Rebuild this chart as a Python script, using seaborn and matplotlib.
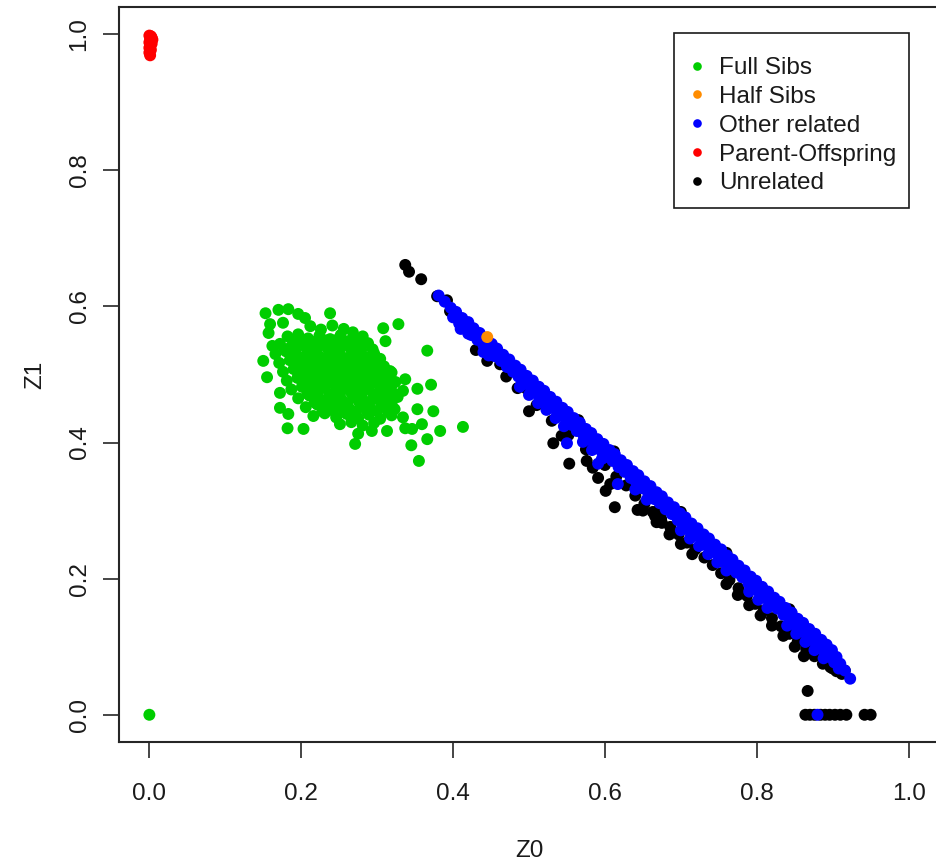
import matplotlib
matplotlib.use("Agg")
import matplotlib.pyplot as plt
from matplotlib.lines import Line2D
from matplotlib.patches import Rectangle
import pandas as pd
import seaborn as sns

# IBD sharing estimates (Z0, Z1) per pair, grouped by reported relationship
full_sibs = [
    (0.000, 0.000),
    (0.153, 0.590), (0.170, 0.595), (0.183, 0.596), (0.196, 0.589), (0.205, 0.583),
    (0.238, 0.590), (0.159, 0.574), (0.176, 0.576), (0.157, 0.561), (0.328, 0.574),
    (0.308, 0.568), (0.311, 0.549), (0.366, 0.535), (0.162, 0.542), (0.150, 0.520),
    (0.155, 0.496), (0.172, 0.473), (0.172, 0.451), (0.183, 0.442), (0.182, 0.421),
    (0.203, 0.420), (0.271, 0.398), (0.275, 0.413), (0.293, 0.417), (0.313, 0.417),
    (0.337, 0.493), (0.353, 0.479), (0.371, 0.485), (0.334, 0.476), (0.353, 0.449),
    (0.374, 0.446), (0.413, 0.423), (0.383, 0.417), (0.366, 0.405), (0.345, 0.396),
    (0.355, 0.373), (0.317, 0.505), (0.359, 0.427), (0.346, 0.420), (0.337, 0.421),
    (0.212, 0.571), (0.226, 0.566), (0.241, 0.572), (0.256, 0.567), (0.268, 0.562),
    (0.182, 0.556), (0.196, 0.559), (0.209, 0.553), (0.224, 0.557), (0.238, 0.552),
    (0.252, 0.558), (0.266, 0.551), (0.281, 0.556),
    (0.172, 0.545), (0.186, 0.540), (0.201, 0.546), (0.215, 0.541), (0.229, 0.545),
    (0.244, 0.539), (0.258, 0.544), (0.273, 0.540), (0.288, 0.546),
    (0.166, 0.530), (0.180, 0.534), (0.194, 0.528), (0.209, 0.533), (0.223, 0.527),
    (0.238, 0.532), (0.252, 0.528), (0.267, 0.533), (0.281, 0.527), (0.296, 0.531),
    (0.171, 0.517), (0.185, 0.521), (0.199, 0.515), (0.214, 0.519), (0.228, 0.514),
    (0.243, 0.520), (0.257, 0.515), (0.272, 0.519), (0.286, 0.513), (0.301, 0.518),
    (0.176, 0.504), (0.190, 0.508), (0.204, 0.502), (0.219, 0.507), (0.233, 0.501),
    (0.248, 0.506), (0.262, 0.500), (0.277, 0.505), (0.291, 0.501), (0.306, 0.507),
    (0.319, 0.503),
    (0.181, 0.491), (0.195, 0.495), (0.209, 0.489), (0.224, 0.494), (0.238, 0.488),
    (0.253, 0.493), (0.267, 0.487), (0.282, 0.492), (0.296, 0.488), (0.311, 0.494),
    (0.324, 0.489),
    (0.187, 0.478), (0.201, 0.482), (0.216, 0.476), (0.230, 0.481), (0.245, 0.475),
    (0.259, 0.480), (0.274, 0.474), (0.288, 0.479), (0.303, 0.475), (0.317, 0.480),
    (0.196, 0.465), (0.211, 0.469), (0.225, 0.463), (0.240, 0.468), (0.254, 0.462),
    (0.269, 0.467), (0.283, 0.461), (0.298, 0.466), (0.312, 0.462), (0.327, 0.467),
    (0.206, 0.452), (0.221, 0.456), (0.235, 0.450), (0.250, 0.455), (0.264, 0.449),
    (0.279, 0.454), (0.293, 0.448), (0.308, 0.453), (0.323, 0.449),
    (0.216, 0.439), (0.231, 0.443), (0.246, 0.437), (0.260, 0.442), (0.275, 0.436),
    (0.289, 0.441), (0.304, 0.435), (0.319, 0.440), (0.334, 0.437),
    (0.251, 0.427), (0.266, 0.430), (0.281, 0.425), (0.296, 0.429),
    (0.189, 0.550), (0.218, 0.548), (0.247, 0.551), (0.276, 0.549),
    (0.203, 0.549), (0.232, 0.550), (0.261, 0.548),
    (0.178, 0.537), (0.207, 0.538), (0.236, 0.536), (0.265, 0.538), (0.294, 0.537),
    (0.192, 0.536), (0.221, 0.537), (0.250, 0.535), (0.279, 0.536),
    (0.188, 0.524), (0.217, 0.523), (0.246, 0.525), (0.275, 0.524), (0.304, 0.523),
    (0.202, 0.525), (0.231, 0.524), (0.260, 0.523), (0.289, 0.525),
    (0.193, 0.511), (0.222, 0.510), (0.251, 0.512), (0.280, 0.511), (0.309, 0.512),
    (0.207, 0.512), (0.236, 0.511), (0.265, 0.510), (0.294, 0.511),
    (0.198, 0.498), (0.227, 0.497), (0.256, 0.499), (0.285, 0.497), (0.313, 0.496),
    (0.212, 0.499), (0.241, 0.497), (0.270, 0.498), (0.299, 0.499),
    (0.203, 0.485), (0.232, 0.484), (0.261, 0.486), (0.290, 0.485), (0.319, 0.484),
    (0.217, 0.486), (0.246, 0.484), (0.275, 0.485), (0.304, 0.486),
    (0.208, 0.472), (0.237, 0.471), (0.266, 0.473), (0.295, 0.471), (0.322, 0.472),
    (0.222, 0.473), (0.251, 0.471), (0.280, 0.472), (0.309, 0.473),
    (0.218, 0.459), (0.247, 0.458), (0.276, 0.460), (0.305, 0.458),
    (0.232, 0.460), (0.261, 0.458), (0.290, 0.459), (0.319, 0.458),
    (0.228, 0.446), (0.257, 0.445), (0.286, 0.447), (0.315, 0.445),
    (0.242, 0.447), (0.271, 0.445), (0.300, 0.446),
]

half_sibs = [(0.445, 0.555)]

parent_offspring = [
    (0.000, 0.998), (0.002, 0.997), (0.003, 0.995), (0.001, 0.993), (0.004, 0.992),
    (0.002, 0.990), (0.000, 0.988), (0.003, 0.986), (0.001, 0.983), (0.000, 0.980),
    (0.002, 0.977), (0.000, 0.973), (0.001, 0.969),
]

other_related = [
    # upper edge of the band
    (0.381, 0.616), (0.389, 0.607), (0.397, 0.598), (0.404, 0.592), (0.412, 0.583),
    (0.420, 0.577), (0.427, 0.568), (0.435, 0.561), (0.443, 0.552), (0.451, 0.545),
    (0.458, 0.538), (0.466, 0.529), (0.474, 0.522), (0.482, 0.513), (0.489, 0.507),
    (0.497, 0.498), (0.505, 0.491), (0.513, 0.482), (0.520, 0.476), (0.528, 0.467),
    (0.536, 0.460), (0.544, 0.451), (0.551, 0.445), (0.559, 0.436), (0.567, 0.429),
    (0.575, 0.420), (0.582, 0.414), (0.590, 0.405), (0.598, 0.398), (0.606, 0.389),
    (0.613, 0.383), (0.621, 0.374), (0.629, 0.367), (0.637, 0.358), (0.644, 0.352),
    (0.652, 0.343), (0.660, 0.336), (0.668, 0.327), (0.675, 0.321), (0.683, 0.312),
    (0.691, 0.305), (0.699, 0.296), (0.706, 0.290), (0.714, 0.281), (0.722, 0.274),
    (0.730, 0.265), (0.737, 0.259), (0.745, 0.250), (0.753, 0.243), (0.761, 0.234),
    (0.768, 0.228), (0.776, 0.219), (0.784, 0.212), (0.792, 0.203), (0.799, 0.197),
    (0.807, 0.188), (0.815, 0.181), (0.823, 0.172), (0.830, 0.166), (0.838, 0.157),
    (0.846, 0.150), (0.854, 0.141), (0.861, 0.135), (0.869, 0.126), (0.877, 0.119),
    (0.885, 0.110), (0.892, 0.103), (0.899, 0.095), (0.905, 0.085), (0.910, 0.075),
    (0.916, 0.065), (0.923, 0.053),
    # middle of the band
    (0.400, 0.584), (0.408, 0.575), (0.416, 0.568), (0.424, 0.558), (0.432, 0.551),
    (0.440, 0.543), (0.447, 0.536), (0.455, 0.527), (0.463, 0.520), (0.471, 0.511),
    (0.479, 0.504), (0.486, 0.497), (0.494, 0.488), (0.502, 0.481), (0.510, 0.472),
    (0.517, 0.466), (0.525, 0.457), (0.533, 0.450), (0.541, 0.441), (0.548, 0.435),
    (0.556, 0.426), (0.564, 0.419), (0.572, 0.410), (0.579, 0.404), (0.587, 0.395),
    (0.595, 0.388), (0.603, 0.379), (0.610, 0.373), (0.618, 0.364), (0.626, 0.357),
    (0.634, 0.348), (0.641, 0.342), (0.649, 0.333), (0.657, 0.326), (0.665, 0.317),
    (0.672, 0.311), (0.680, 0.302), (0.688, 0.295), (0.696, 0.286), (0.703, 0.280),
    (0.711, 0.271), (0.719, 0.264), (0.727, 0.255), (0.734, 0.249), (0.742, 0.240),
    (0.750, 0.233), (0.758, 0.224), (0.765, 0.218), (0.773, 0.209), (0.781, 0.202),
    (0.789, 0.193), (0.796, 0.187), (0.804, 0.178), (0.812, 0.171), (0.820, 0.162),
    (0.827, 0.156), (0.835, 0.147), (0.843, 0.140), (0.851, 0.131), (0.858, 0.125),
    (0.866, 0.116), (0.874, 0.109), (0.882, 0.100), (0.889, 0.093), (0.896, 0.085),
    (0.902, 0.077), (0.908, 0.068),
    # lower edge where the band widens
    (0.488, 0.482), (0.500, 0.470), (0.512, 0.458), (0.523, 0.448), (0.535, 0.436),
    (0.546, 0.424), (0.571, 0.401), (0.583, 0.389), (0.596, 0.376), (0.640, 0.331),
    (0.655, 0.316), (0.700, 0.271), (0.712, 0.259), (0.724, 0.248), (0.736, 0.236),
    (0.748, 0.224), (0.760, 0.212), (0.790, 0.181), (0.802, 0.169), (0.814, 0.157),
    (0.840, 0.131), (0.852, 0.119), (0.864, 0.107), (0.876, 0.095), (0.888, 0.083),
    # scattered pairs
    (0.410, 0.567), (0.420, 0.560), (0.440, 0.533), (0.447, 0.528), (0.550, 0.399),
    (0.563, 0.417), (0.591, 0.369), (0.617, 0.339), (0.880, 0.000),
]

unrelated = [
    # just above the band
    (0.392, 0.609), (0.565, 0.433), (0.612, 0.387), (0.700, 0.298), (0.760, 0.238),
    (0.843, 0.155),
    # lower edge of the band
    (0.430, 0.536), (0.445, 0.520), (0.470, 0.497), (0.485, 0.480), (0.510, 0.455),
    (0.530, 0.432), (0.552, 0.411), (0.575, 0.390), (0.600, 0.367), (0.615, 0.350),
    (0.628, 0.337), (0.640, 0.322), (0.652, 0.310), (0.663, 0.298), (0.674, 0.288),
    (0.686, 0.276), (0.697, 0.265), (0.708, 0.253), (0.719, 0.243), (0.731, 0.231),
    (0.742, 0.220), (0.753, 0.208), (0.764, 0.198), (0.776, 0.186), (0.787, 0.175),
    (0.798, 0.163), (0.809, 0.153), (0.820, 0.142), (0.832, 0.130), (0.843, 0.119),
    (0.854, 0.108), (0.865, 0.097), (0.876, 0.086), (0.887, 0.075), (0.897, 0.070),
    (0.905, 0.064), (0.912, 0.060),
    (0.650, 0.300), (0.668, 0.283), (0.685, 0.265), (0.700, 0.251), (0.715, 0.236),
    (0.760, 0.192), (0.775, 0.176), (0.790, 0.161), (0.805, 0.146), (0.820, 0.131),
    (0.835, 0.116), (0.850, 0.100), (0.862, 0.086),
    # scattered pairs
    (0.337, 0.661), (0.342, 0.651), (0.358, 0.640), (0.379, 0.615), (0.396, 0.593),
    (0.462, 0.515), (0.497, 0.479), (0.500, 0.446), (0.532, 0.399), (0.543, 0.410),
    (0.553, 0.369), (0.576, 0.373), (0.584, 0.363), (0.591, 0.348), (0.607, 0.339),
    (0.601, 0.329), (0.613, 0.305), (0.643, 0.301), (0.670, 0.300), (0.666, 0.292),
    (0.675, 0.282), (0.867, 0.035), (0.900, 0.068), (0.916, 0.065),
    # no IBD1 sharing
    (0.864, 0.000), (0.870, 0.000), (0.876, 0.000), (0.884, 0.000), (0.890, 0.000),
    (0.896, 0.000), (0.903, 0.000), (0.910, 0.000), (0.918, 0.000), (0.942, 0.000),
    (0.950, 0.000),
]

legend_order = ["Full Sibs", "Half Sibs", "Other related", "Parent-Offspring", "Unrelated"]
colors = {
    "Full Sibs": "#00CD00",
    "Half Sibs": "#FF8C00",
    "Other related": "#0000FF",
    "Parent-Offspring": "#FF0000",
    "Unrelated": "#000000",
}
tick_values = [0.0, 0.2, 0.4, 0.6, 0.8, 1.0]
tick_labels = ["0.0", "0.2", "0.4", "0.6", "0.8", "1.0"]

# drawing order: unrelated underneath, then the related groups on top
groups = [
    ("Unrelated", unrelated),
    ("Other related", other_related),
    ("Full Sibs", full_sibs),
    ("Half Sibs", half_sibs),
    ("Parent-Offspring", parent_offspring),
]
rows = [(z0, z1, name) for name, pts in groups for z0, z1 in pts]
df = pd.DataFrame(rows, columns=["Z0", "Z1", "relationship"])

sns.set_theme(style="ticks")
plt.rcParams["font.family"] = ["Liberation Sans", "DejaVu Sans"]

fig = plt.figure(figsize=(9.37, 8.61), dpi=100)
ax = fig.add_axes([119 / 937, 1 - 742 / 861, 820 / 937, 735 / 861])

sns.scatterplot(
    data=df, x="Z0", y="Z1", hue="relationship", hue_order=legend_order,
    palette=colors, s=74, linewidth=0, ax=ax, legend=False,
)

axis_color = "#262626"
ax.set_xlim(-0.04, 1.04)
ax.set_ylim(-0.04, 1.04)
ax.set_xticks(tick_values)
ax.set_xticklabels(tick_labels)
ax.set_yticks(tick_values)
ax.set_yticklabels(tick_labels, rotation=90, va="center")
ax.tick_params(axis="both", length=11.5, width=1.2, color=axis_color,
               labelsize=17.5, labelcolor="#1a1a1a")
ax.tick_params(axis="x", pad=18)
ax.tick_params(axis="y", pad=9)
for side in ax.spines.values():
    side.set_linewidth(1.5)
    side.set_color(axis_color)

ax.set_xlabel("Z0", fontsize=17.5, color="#1a1a1a", va="center")
ax.set_ylabel("Z1", fontsize=17.5, color="#1a1a1a", va="center")
ax.xaxis.set_label_coords(0.5, (742 - 851) / 735)
ax.yaxis.set_label_coords((35 - 119) / 820, 0.5)

# legend box (square frame) with the entries placed inside it
box = Rectangle((0.6768, 0.7265), 0.2866, 0.2381, transform=ax.transAxes,
                facecolor="white", edgecolor="#1a1a1a", linewidth=1.2, zorder=4)
ax.add_patch(box)

handles = [
    Line2D([], [], linestyle="none", marker="o", markersize=6.2,
           markerfacecolor=colors[name], markeredgewidth=0)
    for name in legend_order
]
leg = ax.legend(
    handles, legend_order, loc="upper right", bbox_to_anchor=(0.969, 0.955),
    borderaxespad=0, frameon=False, fontsize=17.5, borderpad=0.7,
    labelspacing=0.28, handlelength=0.5, handletextpad=0.66,
)
leg.set_zorder(5)
for t in leg.get_texts():
    t.set_color("#1a1a1a")

fig.savefig("out.png", dpi=100)
